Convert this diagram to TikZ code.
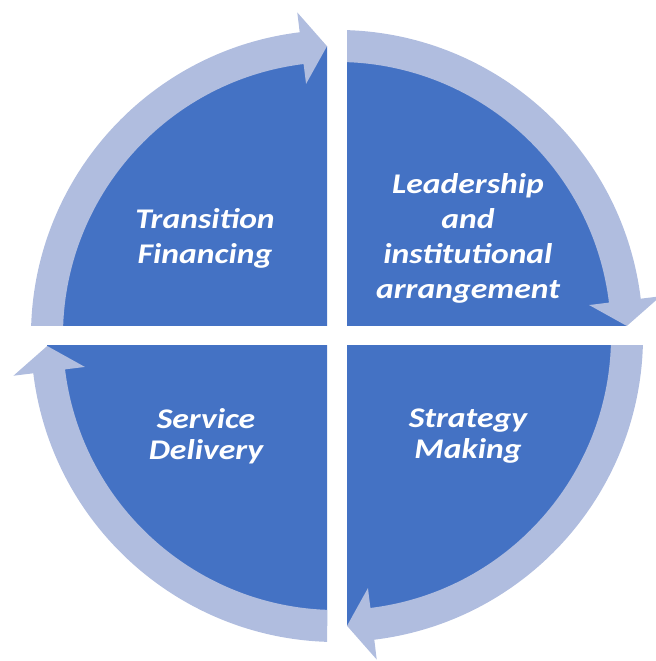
\documentclass[tikz,border=0pt]{standalone}
\usepackage{fontspec}
\newfontfamily\cyclefont[FakeStretch=1.18]{Carlito}
\definecolor{cycleblue}{HTML}{4472C4}
\definecolor{ringblue}{RGB}{176,189,223}

\begin{document}
\begin{tikzpicture}[x=1bp, y=1bp,
    lbl/.style={text=white, align=center, font=\cyclefont\bfseries\itshape\fontsize{28.5bp}{35bp}\selectfont}]
    \useasboundingbox (0,0) rectangle (656,661);
    \coordinate (c) at (337,325);

    % Quadrants with their arrows
    \foreach \a in {0,-90,-180,-270} {
        \begin{scope}[shift={(c)}, rotate=\a]
            \clip (10,10) rectangle (400,400);
            \fill[cycleblue] (0,0) circle (290);
            \fill[ringblue] (95:306) arc (95:7:306) -- (7:326) -- (1.98:290)
                -- (7:254) -- (7:274) arc (7:95:274) -- cycle;
        \end{scope}
    }

    % Labels
    \node[lbl] (finance) at (205,423) {Transition\\Financing};
    \node[lbl] (lead) at (468,423) {Leadership\\and\\institutional\\arrangement};
    \node[lbl, font=\cyclefont\bfseries\itshape\fontsize{28.5bp}{31.5bp}\selectfont] (service) at (206,225) {Service\\Delivery};
    \node[lbl, font=\cyclefont\bfseries\itshape\fontsize{28.5bp}{31.5bp}\selectfont] (strategy) at (468,225) {Strategy\\Making};
\end{tikzpicture}
\end{document}
